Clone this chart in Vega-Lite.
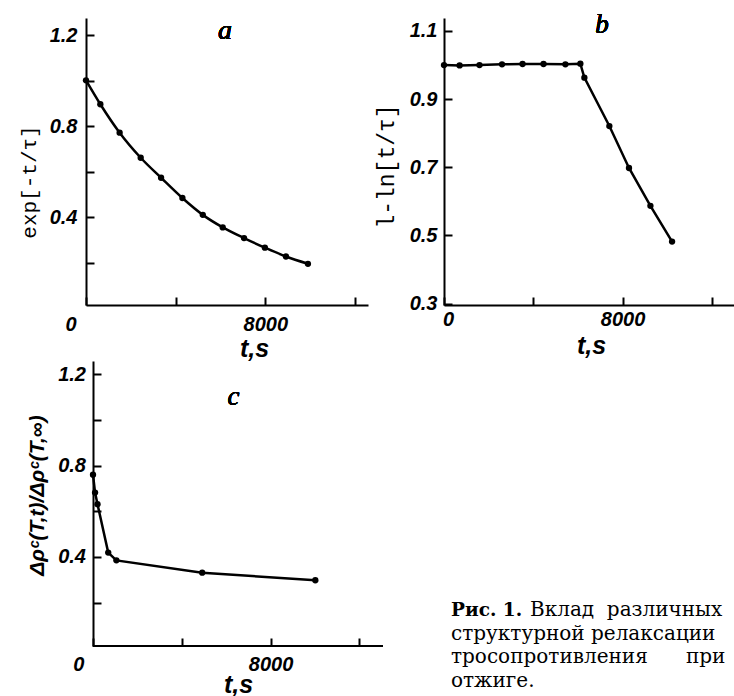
{
  "$schema": "https://vega.github.io/schema/vega-lite/v6.json",
  "background": "white",
  "padding": {"left": 18, "top": 10, "right": 0, "bottom": 0},
  "datasets": {
    "a": [
      {"t": 0, "v": 1.002}, {"t": 640, "v": 0.897}, {"t": 1500, "v": 0.772}, {"t": 2440, "v": 0.662},
      {"t": 3350, "v": 0.574}, {"t": 4300, "v": 0.485}, {"t": 5210, "v": 0.411}, {"t": 6100, "v": 0.356},
      {"t": 7050, "v": 0.309}, {"t": 7980, "v": 0.267}, {"t": 8920, "v": 0.228}, {"t": 9900, "v": 0.196}
    ],
    "b": [
      {"t": 0, "v": 1.0}, {"t": 700, "v": 0.999}, {"t": 1590, "v": 1.0}, {"t": 2600, "v": 1.002},
      {"t": 3520, "v": 1.003}, {"t": 4460, "v": 1.003}, {"t": 5440, "v": 1.002}, {"t": 6110, "v": 1.004},
      {"t": 6290, "v": 0.963}, {"t": 7410, "v": 0.821}, {"t": 8290, "v": 0.698}, {"t": 9250, "v": 0.587},
      {"t": 10220, "v": 0.482}
    ],
    "c": [
      {"t": 0, "v": 0.76}, {"t": 93, "v": 0.682}, {"t": 203, "v": 0.631}, {"t": 686, "v": 0.419},
      {"t": 1054, "v": 0.385}, {"t": 4920, "v": 0.331}, {"t": 10015, "v": 0.298}
    ],
    "caption": [
      {"part": "head", "line": 0, "text": "Рис. 1."},
      {"part": "rest", "line": 0, "text": "Вклад\u00a0 различных"},
      {"part": "body", "line": 1, "text": "структурной релаксации"},
      {"part": "body", "line": 2, "text": "тросопротивления \u00a0\u00a0\u00a0\u00a0\u00a0при"},
      {"part": "body", "line": 3, "text": "отжиге."}
    ]
  },
  "columns": 2,
  "spacing": {"row": 56, "column": 61},
  "bounds": "flush",
  "align": "none",
  "concat": [
    {
      "width": 282, "height": 287,
      "data": {"name": "a"},
      "layer": [
        {
          "mark": {"type": "line", "interpolate": "monotone", "color": "black", "strokeWidth": 2.5},
          "encoding": {
            "x": {"field": "t", "type": "quantitative",
              "scale": {"domain": [0, 12580], "nice": false, "zero": false},
              "axis": {"values": [0, 4000, 8000, 12000], "format": "d",
                "labelExpr": "datum.value == 0 || datum.value == 8000 ? datum.label : ''",
                "labelAlign": {"expr": "datum.value == 0 ? 'right' : 'center'"},
                "labelOffset": {"expr": "datum.value == 0 ? -10 : 0"},
                "labelPadding": 17,
                "title": "t,s", "titleX": 168, "titleY": 43}},
            "y": {"field": "v", "type": "quantitative",
              "scale": {"domain": [0.015, 1.276], "nice": false, "zero": false},
              "axis": {"values": [0.2, 0.4, 0.6, 0.8, 1.0, 1.2], "format": ".1f",
                "labelExpr": "datum.label == '0.4' || datum.label == '0.8' || datum.label == '1.2' ? datum.label : ''",
                "labelPadding": 17,
                "title": "exp[-t/τ]", "titleFont": "Liberation Mono", "titleFontSize": 21,
                "titleFontWeight": "normal", "titleFontStyle": "normal",
                "titleX": -56.5, "titleY": 163.5}}
          }
        },
        {
          "mark": {"type": "point", "filled": true, "color": "black", "size": 40, "opacity": 1},
          "encoding": {"x": {"field": "t", "type": "quantitative"}, "y": {"field": "v", "type": "quantitative"}}
        },
        {
          "mark": {"type": "text", "text": "a", "font": "Liberation Serif", "fontStyle": "italic", "fontSize": 28, "baseline": "middle", "color": "black"},
          "encoding": {"x": {"datum": 6200}, "y": {"datum": 1.218}}
        }
      ]
    },
    {
      "width": 291, "height": 287,
      "data": {"name": "b"},
      "layer": [
        {
          "mark": {"type": "line", "color": "black", "strokeWidth": 2.5},
          "encoding": {
            "x": {"field": "t", "type": "quantitative",
              "scale": {"domain": [0, 13040], "nice": false, "zero": false},
              "axis": {"values": [0, 4000, 8000, 12000], "format": "d",
                "labelExpr": "datum.value == 0 || datum.value == 8000 ? datum.label : ''",
                "labelOffset": {"expr": "datum.value == 0 ? 4 : 0"},
                "labelPadding": 12,
                "title": "t,s", "titleX": 147, "titleY": 40}},
            "y": {"field": "v", "type": "quantitative",
              "scale": {"domain": [0.296, 1.138], "nice": false, "zero": false},
              "axis": {"values": [0.3, 0.4, 0.5, 0.6, 0.7, 0.8, 0.9, 1.0, 1.1], "format": ".1f",
                "labelExpr": "datum.label == '0.3' || datum.label == '0.5' || datum.label == '0.7' || datum.label == '0.9' || datum.label == '1.1' ? datum.label : ''",
                "labelPadding": 15,
                "title": "l-ln[t/τ]", "titleFont": "Liberation Mono", "titleFontSize": 23,
                "titleFontWeight": "normal", "titleFontStyle": "normal",
                "titleX": -57.7, "titleY": 148}}
          }
        },
        {
          "mark": {"type": "point", "filled": true, "color": "black", "size": 40, "opacity": 1},
          "encoding": {"x": {"field": "t", "type": "quantitative"}, "y": {"field": "v", "type": "quantitative"}}
        },
        {
          "mark": {"type": "text", "text": "b", "font": "Liberation Serif", "fontStyle": "italic", "fontSize": 27, "baseline": "middle", "color": "black"},
          "encoding": {"x": {"datum": 7075}, "y": {"datum": 1.1176}}
        }
      ]
    },
    {
      "width": 297, "height": 285,
      "data": {"name": "c"},
      "layer": [
        {
          "mark": {"type": "line", "color": "black", "strokeWidth": 2.5},
          "encoding": {
            "x": {"field": "t", "type": "quantitative",
              "scale": {"domain": [-315, 13063], "nice": false, "zero": false},
              "axis": {"values": [0, 4000, 8000, 12000], "format": "d", "domain": false,
                "labelExpr": "datum.value == 0 || datum.value == 8000 ? datum.label : ''",
                "labelAlign": {"expr": "datum.value == 0 ? 'right' : 'center'"},
                "labelOffset": {"expr": "datum.value == 0 ? -9 : 0"},
                "labelPadding": 16,
                "title": "t,s", "titleX": 152, "titleY": 38}},
            "y": {"field": "v", "type": "quantitative",
              "scale": {"domain": [0.01, 1.258], "nice": false, "zero": false},
              "axis": {"values": [0.2, 0.4, 0.6, 0.8, 1.0, 1.2], "format": ".1f", "offset": -7,
                "labelExpr": "datum.label == '0.4' || datum.label == '0.8' || datum.label == '1.2' ? datum.label : ''",
                "labelPadding": 15.5,
                "title": "Δρᶜ(T,t)/Δρᶜ(T,∞)", "titleFont": "Liberation Sans", "titleFontSize": 21,
                "titleFontWeight": "bold", "titleFontStyle": "italic",
                "titleX": -56, "titleY": 134}}
          }
        },
        {
          "mark": {"type": "point", "filled": true, "color": "black", "size": 40, "opacity": 1},
          "encoding": {"x": {"field": "t", "type": "quantitative"}, "y": {"field": "v", "type": "quantitative"}}
        },
        {
          "mark": {"type": "rule", "color": "black", "strokeWidth": 2},
          "encoding": {"x": {"datum": 0}, "x2": {"datum": 13063}, "y": {"datum": 0.01}}
        },
        {
          "mark": {"type": "text", "text": "c", "font": "Liberation Serif", "fontStyle": "italic", "fontSize": 27, "baseline": "middle", "color": "black"},
          "encoding": {"x": {"datum": 6329}, "y": {"datum": 1.1}}
        }
      ]
    },
    {
      "width": 2, "height": 330,
      "data": {"name": "caption"},
      "encoding": {
        "y": {"field": "line", "type": "quantitative", "scale": {"domain": [-10.85, 3.19], "reverse": true, "nice": false, "zero": false}, "axis": null},
        "text": {"field": "text", "type": "nominal"}
      },
      "layer": [
        {"transform": [{"filter": "datum.part === 'head'"}],
         "mark": {"type": "text", "align": "left", "baseline": "alphabetic", "font": "DejaVu Serif", "fontSize": 18.5, "fontWeight": "bold", "color": "black", "dx": 6}},
        {"transform": [{"filter": "datum.part === 'rest'"}],
         "mark": {"type": "text", "align": "left", "baseline": "alphabetic", "font": "DejaVu Serif", "fontSize": 20, "color": "black", "dx": 85}},
        {"transform": [{"filter": "datum.part === 'body'"}],
         "mark": {"type": "text", "align": "left", "baseline": "alphabetic", "font": "DejaVu Serif", "fontSize": 20, "color": "black", "dx": 6}}
      ]
    }
  ],
  "config": {
    "view": {"stroke": null},
    "axis": {
      "domainColor": "black", "domainWidth": 2, "tickColor": "black", "tickWidth": 2, "tickSize": -8,
      "grid": false, "labelFont": "Liberation Sans", "labelFontSize": 20, "labelFontStyle": "italic",
      "labelFontWeight": "bold", "labelColor": "black", "labelFlush": false, "labelOverlap": false,
      "labelBound": false, "titleColor": "black", "titleAlign": "center", "titleBaseline": "middle"
    },
    "axisX": {"titleFont": "Liberation Sans", "titleFontSize": 25, "titleFontStyle": "italic", "titleFontWeight": "bold"},
    "axisY": {"titleAngle": 270}
  }
}
